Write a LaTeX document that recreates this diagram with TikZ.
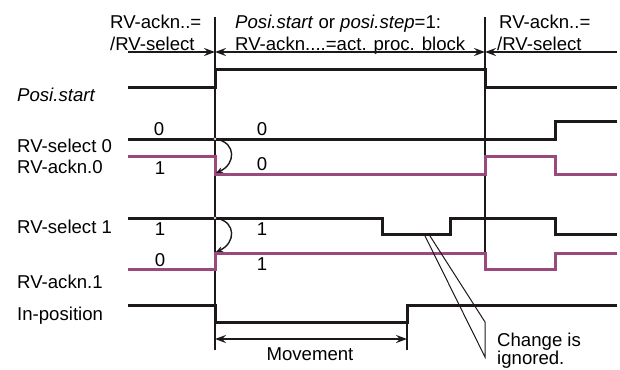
\documentclass[tikz,border=0pt]{standalone}
\usepackage{fontspec}
\setmainfont{Liberation Sans}
\usetikzlibrary{arrows.meta}
\definecolor{sigpurple}{RGB}{155,72,125}
\definecolor{sigblack}{RGB}{30,25,25}
\begin{document}
\begin{tikzpicture}[x=1pt,y=-1pt,
  lbl/.style={anchor=base west,inner sep=0pt,font=\fontsize{18.6}{20}\selectfont},
  val/.style={anchor=base,inner sep=0pt,font=\fontsize{18.6}{20}\selectfont},
  sig/.style={line width=3pt,sigblack},
  ack/.style={line width=3pt,sigpurple},
  guide/.style={line width=1.2pt,sigblack},
  dimline/.style={line width=2pt,sigblack,>={Stealth[length=11pt,width=8pt,inset=4pt]}},
  curvearrow/.style={line width=1.4pt,sigblack,->,>={Stealth[length=7pt,width=6pt,inset=2.5pt]}},
  dotmark/.style={circle,draw=sigblack,fill=white,inner sep=0pt,minimum size=3.6pt,line width=0.7pt},
  callout/.style={line width=1pt,sigblack}
]
\useasboundingbox (0,0) rectangle (620,369);

% guides
\coordinate (g1top) at (215,17);
\coordinate (g1bot) at (215,350);
\coordinate (g2top) at (485,17);
\coordinate (g2bot) at (485,253);
\coordinate (m2top) at (407,322);
\coordinate (m2bot) at (407,350);
\draw[guide] (g1top) -- (g1bot);
\draw[guide] (g2top) -- (g2bot);
\draw[guide] (m2top) -- (m2bot);

% header texts
\node[lbl] (h1a) at (110,29) {RV-ackn..=};
\node[lbl] (h1b) at (110,50) {/RV-select};
\node[lbl] (h2a) at (235,29) {\textit{Posi.start} or \textit{posi.step}=1:};
\node[lbl] (h2b) at (235,50) {RV-ackn....=act. proc. block};
\node[lbl] (h3a) at (499,29) {RV-ackn..=};
\node[lbl] (h3b) at (497,50) {/RV-select};

% header dimension line
\coordinate (d0) at (128,52);
\coordinate (d1) at (215,52);
\coordinate (d2) at (485,52);
\coordinate (d3) at (617,52);
\draw[dimline,->] (d0) -- (d1);
\draw[dimline,<->] (d1) -- (d2);
\draw[dimline,<-] (d2) -- (d3);

% left labels
\node[lbl] (lposi) at (17,101) {\textit{Posi.start}};
\node[lbl] (lsel0) at (17,152) {RV-select 0};
\node[lbl] (lack0) at (17,173) {RV-ackn.0};
\node[lbl] (lsel1) at (17,233) {RV-select 1};
\node[lbl] (lack1) at (17,288) {RV-ackn.1};
\node[lbl] (linpos) at (17,320) {In-position};

% signals
\draw[sig] (128,87) -- (215,87) -- (215,69) -- (485,69) -- (485,87) -- (617,87);
\draw[sig] (128,139) -- (555,139) -- (555,121) -- (617,121);
\draw[ack] (128,156) -- (215,156) -- (215,174) -- (485,174) -- (485,156) -- (555,156) -- (555,174) -- (617,174);
\draw[sig] (128,218) -- (382,218) -- (382,234) -- (450,234) -- (450,218) -- (555,218) -- (555,234) -- (617,234);
\draw[ack] (128,269) -- (215,269) -- (215,253) -- (485,253) -- (485,269) -- (555,269) -- (555,253) -- (617,253);
\draw[sig] (128,305) -- (215,305) -- (215,322) -- (407,322) -- (407,305) -- (617,305);

% values
\node[val] (v1) at (159,135) {0};
\node[val] (v2) at (262,135) {0};
\node[val] (v3) at (160,174) {1};
\node[val] (v4) at (262,170) {0};
\node[val] (v5) at (160,235) {1};
\node[val] (v6) at (262,235) {1};
\node[val] (v7) at (160,266) {0};
\node[val] (v8) at (262,270) {1};

% causal curved arrows
\node[dotmark] (p0) at (215,139) {};
\node[dotmark] (p1) at (215,218) {};
\coordinate (q0) at (216,173);
\coordinate (q1) at (216,252);
\draw[curvearrow] (p0) .. controls (236,143) and (236,164) .. (q0);
\draw[curvearrow] (p1) .. controls (236,222) and (236,243) .. (q1);

% movement
\coordinate (mv0) at (215,339);
\coordinate (mv1) at (407,339);
\draw[dimline,<->] (mv0) -- (mv1);
\node[val] (mvt) at (310,360) {Movement};

% callout
\coordinate (c0) at (425,236);
\coordinate (c1) at (485,357);
\coordinate (c2) at (485,322);
\coordinate (c3) at (430,236);
\draw[callout,line join=miter] (c0) -- (c1) -- (c2) -- (c3);
\node[lbl] (ct1) at (497,346) {Change is};
\node[lbl] (ct2) at (497,364) {ignored.};
\end{tikzpicture}
\end{document}
